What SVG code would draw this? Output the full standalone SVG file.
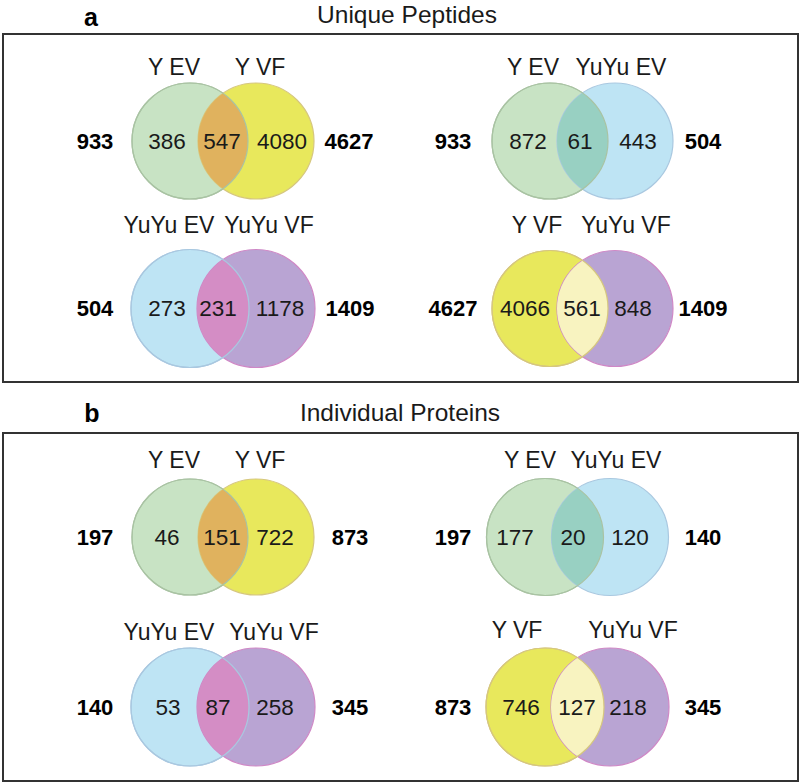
<svg xmlns="http://www.w3.org/2000/svg" width="800" height="783" viewBox="0 0 800 783">
<style>
text{font-family:"Liberation Sans",Arial,sans-serif;fill:#1a1a1a;text-anchor:middle}
.t{font-size:23px}
.n{font-size:22.5px}
.b{font-size:22px;font-weight:bold;fill:#000}
.h{font-size:25px;font-weight:bold;fill:#000}
.ti{font-size:24.5px}
.box{fill:none;stroke:#333;stroke-width:2}
.g{fill:#c8e3c4;stroke:#a9c3a3;stroke-width:1.2}
.y{fill:#e8e85c;stroke:#d6c77e;stroke-width:1.2}
.bl{fill:#bee4f4;stroke:#a9c8e0;stroke-width:1.2}
.p{fill:#b9a4d3;stroke:#cf88c6;stroke-width:1.2}
.gy{fill:#e0b25e}
.gb{fill:#98d0c2}
.bp{fill:#d48dc5}
.yp{fill:#f8f3c0}
.o{fill:none;stroke-width:1.2}
</style>
<defs>
<clipPath id="c1"><circle cx="190" cy="141" r="58"/></clipPath>
<clipPath id="c2"><circle cx="550" cy="141" r="58"/></clipPath>
<clipPath id="c3"><circle cx="190" cy="308.5" r="59"/></clipPath>
<clipPath id="c4"><circle cx="550" cy="308.5" r="58"/></clipPath>
<clipPath id="c5"><circle cx="190" cy="537" r="58"/></clipPath>
<clipPath id="c6"><circle cx="545" cy="537" r="58.5"/></clipPath>
<clipPath id="c7"><circle cx="190" cy="707" r="59"/></clipPath>
<clipPath id="c8"><circle cx="545" cy="707" r="59"/></clipPath>
</defs>
<rect width="800" height="783" fill="#fff"/>

<g id="panel-a">
<text class="h" x="91" y="26">a</text>
<text class="ti" x="407" y="23">Unique Peptides</text>
<rect class="box" x="3" y="34" width="795" height="348"/>
</g>

<g id="venn-a1">
<circle class="g" cx="190" cy="141" r="58"/>
<circle class="y" cx="256" cy="141" r="58"/>
<circle class="gy" cx="256" cy="141" r="58" clip-path="url(#c1)"/>
<circle class="o" cx="190" cy="141" r="58" stroke="#a9c3a3"/>
<text class="t" x="174" y="75">Y EV</text>
<text class="t" x="260" y="75">Y VF</text>
<text class="b" x="95" y="149">933</text>
<text class="n" x="167" y="149">386</text>
<text class="n" x="222" y="149">547</text>
<text class="n" x="282" y="149">4080</text>
<text class="b" x="349" y="149">4627</text>
</g>

<g id="venn-a2">
<circle class="g" cx="550" cy="141" r="58"/>
<circle class="bl" cx="615" cy="141" r="58"/>
<circle class="gb" cx="615" cy="141" r="58" clip-path="url(#c2)"/>
<circle class="o" cx="550" cy="141" r="58" stroke="#a9c3a3"/>
<text class="t" x="533" y="75">Y EV</text>
<text class="t" x="621" y="75">YuYu EV</text>
<text class="b" x="453" y="149">933</text>
<text class="n" x="528" y="149">872</text>
<text class="n" x="580" y="149">61</text>
<text class="n" x="638" y="149">443</text>
<text class="b" x="703" y="149">504</text>
</g>

<g id="venn-a3">
<circle class="bl" cx="190" cy="308.5" r="59"/>
<circle class="p" cx="256" cy="308.5" r="59"/>
<circle class="bp" cx="256" cy="308.5" r="59" clip-path="url(#c3)"/>
<circle class="o" cx="190" cy="308.5" r="59" stroke="#a9c8e0"/>
<text class="t" x="169" y="233">YuYu EV</text>
<text class="t" x="269" y="233">YuYu VF</text>
<text class="b" x="95" y="316">504</text>
<text class="n" x="167" y="316">273</text>
<text class="n" x="218" y="316">231</text>
<text class="n" x="280" y="316">1178</text>
<text class="b" x="350" y="316">1409</text>
</g>

<g id="venn-a4">
<circle class="y" cx="550" cy="308.5" r="58"/>
<circle class="p" cx="615" cy="308.5" r="58"/>
<circle class="yp" cx="615" cy="308.5" r="58" clip-path="url(#c4)"/>
<circle class="o" cx="550" cy="308.5" r="58" stroke="#d6c77e"/>
<text class="t" x="537" y="233">Y VF</text>
<text class="t" x="626" y="233">YuYu VF</text>
<text class="b" x="453" y="316">4627</text>
<text class="n" x="525" y="316">4066</text>
<text class="n" x="582" y="316">561</text>
<text class="n" x="633" y="316">848</text>
<text class="b" x="703" y="316">1409</text>
</g>

<g id="panel-b">
<text class="h" x="92" y="422">b</text>
<text class="ti" x="400" y="421">Individual Proteins</text>
<rect class="box" x="3" y="433" width="795" height="348"/>
</g>

<g id="venn-b1">
<circle class="g" cx="190" cy="537" r="58"/>
<circle class="y" cx="256" cy="537" r="58"/>
<circle class="gy" cx="256" cy="537" r="58" clip-path="url(#c5)"/>
<circle class="o" cx="190" cy="537" r="58" stroke="#a9c3a3"/>
<text class="t" x="174" y="468">Y EV</text>
<text class="t" x="260" y="468">Y VF</text>
<text class="b" x="95" y="545">197</text>
<text class="n" x="167" y="545">46</text>
<text class="n" x="222" y="545">151</text>
<text class="n" x="275" y="545">722</text>
<text class="b" x="350" y="545">873</text>
</g>

<g id="venn-b2">
<circle class="g" cx="545" cy="537" r="58.5"/>
<circle class="bl" cx="610" cy="537" r="58.5"/>
<circle class="gb" cx="610" cy="537" r="58.5" clip-path="url(#c6)"/>
<circle class="o" cx="545" cy="537" r="58.5" stroke="#a9c3a3"/>
<text class="t" x="530" y="468">Y EV</text>
<text class="t" x="616" y="468">YuYu EV</text>
<text class="b" x="453" y="545">197</text>
<text class="n" x="515" y="545">177</text>
<text class="n" x="573" y="545">20</text>
<text class="n" x="630" y="545">120</text>
<text class="b" x="703" y="545">140</text>
</g>

<g id="venn-b3">
<circle class="bl" cx="190" cy="707" r="59"/>
<circle class="p" cx="256" cy="707" r="59"/>
<circle class="bp" cx="256" cy="707" r="59" clip-path="url(#c7)"/>
<circle class="o" cx="190" cy="707" r="59" stroke="#a9c8e0"/>
<text class="t" x="169" y="640">YuYu EV</text>
<text class="t" x="274" y="640">YuYu VF</text>
<text class="b" x="95" y="715">140</text>
<text class="n" x="168" y="715">53</text>
<text class="n" x="218" y="715">87</text>
<text class="n" x="275" y="715">258</text>
<text class="b" x="350" y="715">345</text>
</g>

<g id="venn-b4">
<circle class="y" cx="545" cy="707" r="59"/>
<circle class="p" cx="610" cy="707" r="59"/>
<circle class="yp" cx="610" cy="707" r="59" clip-path="url(#c8)"/>
<circle class="o" cx="545" cy="707" r="59" stroke="#d6c77e"/>
<text class="t" x="517" y="638">Y VF</text>
<text class="t" x="633" y="638">YuYu VF</text>
<text class="b" x="453" y="715">873</text>
<text class="n" x="521" y="715">746</text>
<text class="n" x="577" y="715">127</text>
<text class="n" x="628" y="715">218</text>
<text class="b" x="703" y="715">345</text>
</g>
</svg>
